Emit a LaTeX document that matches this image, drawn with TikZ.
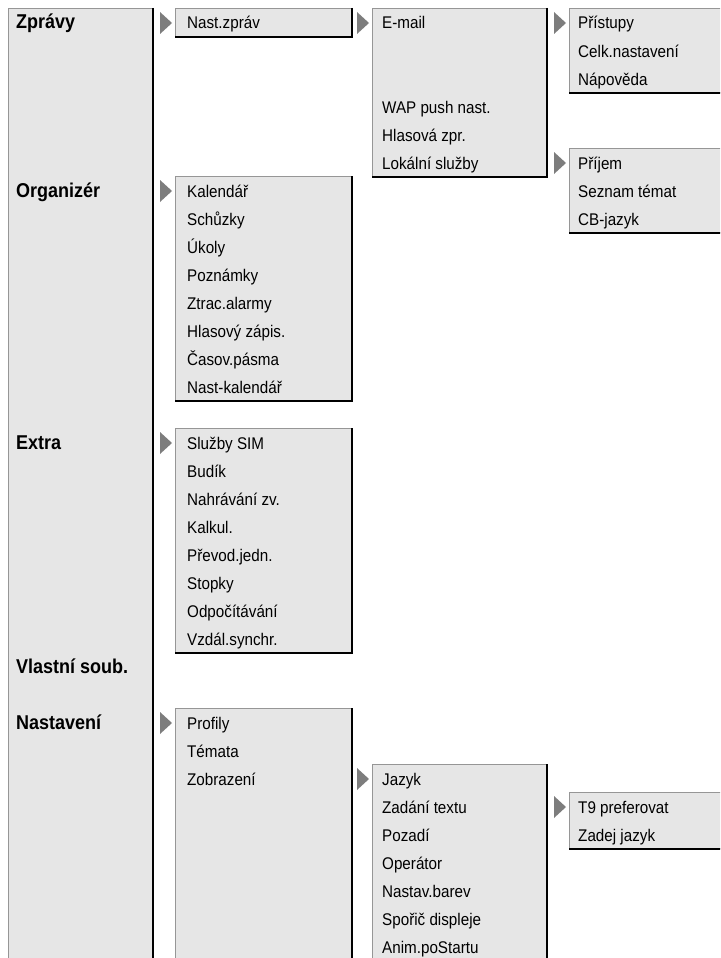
\documentclass[tikz,border=0pt]{standalone}
\usepackage{fontspec}
\setmainfont{Liberation Sans}[FakeStretch=0.9]
\usepackage{tikz}
\usetikzlibrary{positioning,calc}
\definecolor{menufill}{RGB}{230,230,230}
\definecolor{menuedge}{RGB}{150,150,150}
\definecolor{tipcol}{RGB}{125,125,125}

\begin{document}
\begin{tikzpicture}[
    x=1pt, y=-1pt,
    menubox/.style={rectangle, anchor=north west, inner sep=0pt, fill=menufill, draw=menuedge, line width=1.2pt},
    shade/.style={draw=black, line width=2pt},
    item/.style={anchor=base west, inner sep=0pt, font=\fontsize{16.9}{20}\selectfont},
    head/.style={anchor=base west, inner sep=0pt, font=\fontsize{20}{24}\selectfont\bfseries},
    tip/.style={fill=tipcol},
]
\useasboundingbox (0,0) rectangle (720,958);
\clip (0,0) rectangle (720,958);

\node[menubox, minimum width=144pt, minimum height=970pt] (main) at (8,8) {};
\node[menubox, minimum width=176pt, minimum height=28pt] (nast) at (175,8) {};
\node[menubox, minimum width=174pt, minimum height=168pt] (email) at (372,8) {};
\node[menubox, minimum width=170pt, minimum height=84pt] (prist) at (569,8) {};
\node[menubox, minimum width=170pt, minimum height=84pt] (prijem) at (569,148) {};
\node[menubox, minimum width=176pt, minimum height=224pt] (org) at (175,176) {};
\node[menubox, minimum width=176pt, minimum height=224pt] (extra) at (175,428) {};
\node[menubox, minimum width=176pt, minimum height=270pt] (nastav) at (175,708) {};
\node[menubox, minimum width=174pt, minimum height=214pt] (zobr) at (372,764) {};
\node[menubox, minimum width=170pt, minimum height=56pt] (text) at (569,792) {};

\draw[shade] (main.north east) -- (main.south east);
\foreach \b in {nast,email,prist,prijem,org,extra,nastav,zobr,text}
  \draw[shade] (\b.north east) -- (\b.south east) -- (\b.south west);

\foreach \x/\r in {160/0,357/0,554/0,554/5,160/6,160/15,160/25,357/27,554/28}
  \fill[tip] (\x,{23+28*\r-11}) -- ++(12,11) -- ++(-12,11) -- cycle;

% top level
\node[head] (h-zpr) at (16,29) {Zprávy};
\node[head] (h-org) at (16,{29+28*6}) {Organizér};
\node[head] (h-ext) at (16,{29+28*15}) {Extra};
\node[head] (h-vls) at (16,{29+28*23}) {Vlastní soub.};
\node[head] (h-nas) at (16,{29+28*25}) {Nastavení};

% submenus
\node[item] (i-nast) at (187,29) {Nast.zpráv};
\node[item] (i-mail) at (382,29) {E-mail};
\foreach \t [count=\i from 3] in {WAP push nast.,Hlasová zpr.,Lokální služby}
  \node[item] (i-zpr-\i) at (382,{29+28*\i}) {\t};
\foreach \t [count=\i from 0] in {Přístupy,Celk.nastavení,Nápověda}
  \node[item] (i-pri-\i) at (578,{29+28*\i}) {\t};
\foreach \t [count=\i from 5] in {Příjem,Seznam témat,CB-jazyk}
  \node[item] (i-cb-\i) at (578,{29+28*\i}) {\t};
\foreach \t [count=\i from 6] in {Kalendář,Schůzky,Úkoly,Poznámky,Ztrac.alarmy,Hlasový zápis.,Časov.pásma,Nast-kalendář}
  \node[item] (i-org-\i) at (187,{29+28*\i}) {\t};
\foreach \t [count=\i from 15] in {Služby SIM,Budík,Nahrávání zv.,Kalkul.,Převod.jedn.,Stopky,Odpočítávání,Vzdál.synchr.}
  \node[item] (i-ext-\i) at (187,{29+28*\i}) {\t};
\foreach \t [count=\i from 25] in {Profily,Témata,Zobrazení}
  \node[item] (i-nas-\i) at (187,{29+28*\i}) {\t};
\foreach \t [count=\i from 27] in {Jazyk,Zadání textu,Pozadí,Operátor,Nastav.barev,Spořič displeje,Anim.poStartu}
  \node[item] (i-zob-\i) at (382,{29+28*\i}) {\t};
\foreach \t [count=\i from 28] in {T9 preferovat,Zadej jazyk}
  \node[item] (i-t9-\i) at (578,{29+28*\i}) {\t};
\end{tikzpicture}
\end{document}
